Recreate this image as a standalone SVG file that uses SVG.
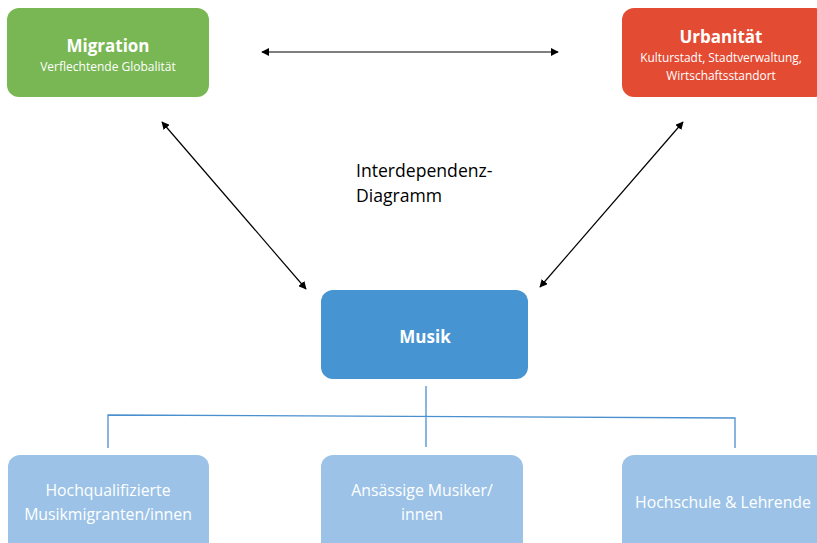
<svg xmlns="http://www.w3.org/2000/svg" width="817" height="543" viewBox="0 0 817 543">
<defs>
<style>
.t{font-family:"Open Sans","Liberation Sans",sans-serif;fill:#fff;text-anchor:middle}
.b{font-weight:bold}
.ar{stroke:#000;stroke-width:1.2;fill:none;marker-start:url(#ah);marker-end:url(#ah)}
.tree{stroke:#4a90cf;stroke-width:1.3;fill:none}
</style>
<marker id="ah" viewBox="0 0 10 10" refX="9" refY="5" markerWidth="8" markerHeight="8" orient="auto-start-reverse" markerUnits="userSpaceOnUse">
<path d="M0,0 L10,5 L0,10 z" fill="#000"/>
</marker>
</defs>
<rect width="817" height="543" fill="#fff"/>
<g id="connectors">
<line class="ar" x1="262" y1="52" x2="558" y2="52"/>
<line class="ar" x1="162" y1="122" x2="306" y2="289"/>
<line class="ar" x1="683" y1="122" x2="540" y2="287"/>
<path class="tree" d="M426,386 V447 M108,448 V415 L735,418 V448"/>
</g>
<g id="migration">
<rect x="7" y="8" width="202" height="89" rx="12" fill="#79b754"/>
<text class="t b" x="108" y="52" font-size="17">Migration</text>
<text class="t" x="108" y="71" font-size="12">Verflechtende Globalität</text>
</g>
<g id="urbanitaet">
<rect x="622" y="8" width="205" height="89" rx="12" fill="#e44b33"/>
<text class="t b" x="721" y="43" font-size="17">Urbanität</text>
<text class="t" x="721" y="62" font-size="11.9">Kulturstadt, Stadtverwaltung,</text>
<text class="t" x="721" y="80" font-size="11.9">Wirtschaftsstandort</text>
</g>
<g id="label">
<text x="356" y="177" font-family="Open Sans, Liberation Sans, sans-serif" font-size="17.6" fill="#000">Interdependenz-</text>
<text x="356" y="202" font-family="Open Sans, Liberation Sans, sans-serif" font-size="17.6" fill="#000">Diagramm</text>
</g>
<g id="musik">
<rect x="321" y="290" width="207" height="89" rx="12" fill="#4694d1"/>
<text class="t b" x="425" y="343" font-size="17">Musik</text>
</g>
<g id="hochqualifizierte">
<rect x="8" y="455" width="201" height="100" rx="12" fill="#9cc3e7"/>
<text class="t" x="108" y="496" font-size="15.8">Hochqualifizierte</text>
<text class="t" x="108" y="520" font-size="15.8">Musikmigranten/innen</text>
</g>
<g id="ansaessige">
<rect x="321" y="455" width="202" height="100" rx="12" fill="#9cc3e7"/>
<text class="t" x="422" y="496" font-size="15.8">Ansässige Musiker/</text>
<text class="t" x="422" y="520" font-size="15.8">innen</text>
</g>
<g id="hochschule">
<rect x="622" y="455" width="205" height="100" rx="12" fill="#9cc3e7"/>
<text class="t" x="723" y="508" font-size="15.8">Hochschule &amp; Lehrende</text>
</g>
</svg>
